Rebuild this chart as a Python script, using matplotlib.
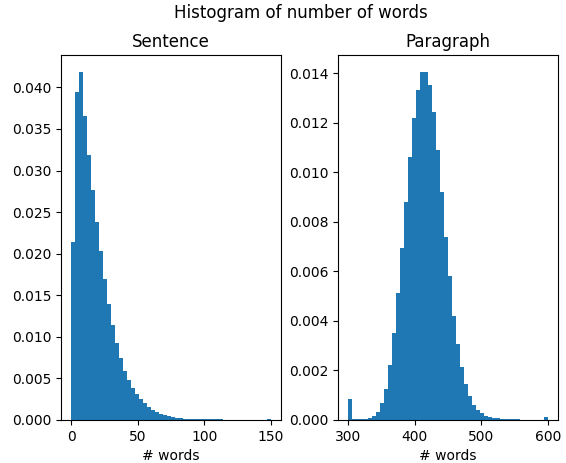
import numpy as np
import matplotlib
matplotlib.use("Agg")
import matplotlib.pyplot as plt

# density of each bin (50 bins each)
sentence_range = (0, 150)
sentence_density = [
    0.0214, 0.0394, 0.0418, 0.0366, 0.0319, 0.0277, 0.0238, 0.0203, 0.0169, 0.0139,
    0.0114, 0.0092, 0.0074, 0.0059, 0.0048, 0.0039, 0.0031, 0.0025, 0.0020, 0.0015,
    0.0012, 0.0009, 0.0007, 0.00056, 0.00044, 0.00032, 0.00024, 0.00024, 0.00016, 0.00016,
    0.00016, 0.00008, 0.00008, 0.00008, 0.00008, 0.00008, 0.00008, 0.00008, 0.0, 0.0,
    0.0, 0.0, 0.0, 0.0, 0.0, 0.0, 0.0, 0.0, 0.0, 0.00012,
]

paragraph_range = (300, 600)
paragraph_density = [
    0.00083, 0.00004, 0.00004, 0.00004, 0.00004, 0.00009, 0.00017, 0.00034, 0.00067, 0.00127,
    0.00221, 0.00353, 0.00512, 0.00693, 0.00881, 0.01062, 0.0122, 0.01334, 0.01404, 0.01404,
    0.01353, 0.01243, 0.01089, 0.00921, 0.0074, 0.00581, 0.00422, 0.00306, 0.00212, 0.00145,
    0.00095, 0.0006, 0.0004, 0.00027, 0.00017, 0.00011, 0.00008, 0.00008, 0.00005, 0.00005,
    0.00005, 0.00005, 0.00005, 0.0, 0.0, 0.0, 0.0, 0.0, 0.0, 0.00013,
]


def draw(ax, rng, density, title):
    edges = np.linspace(rng[0], rng[1], len(density) + 1)
    ax.hist(edges[:-1], bins=edges, weights=density)
    ax.set_title(title)
    ax.set_xlabel("# words")


fig, (ax1, ax2) = plt.subplots(1, 2, figsize=(5.66, 4.63), dpi=100)
draw(ax1, sentence_range, sentence_density, "Sentence")
draw(ax2, paragraph_range, paragraph_density, "Paragraph")
fig.suptitle("Histogram of number of words", x=0.532, y=0.992)
plt.subplots_adjust(left=0.108, right=0.986, bottom=0.093, top=0.881, wspace=0.26)
plt.savefig("out.png")
